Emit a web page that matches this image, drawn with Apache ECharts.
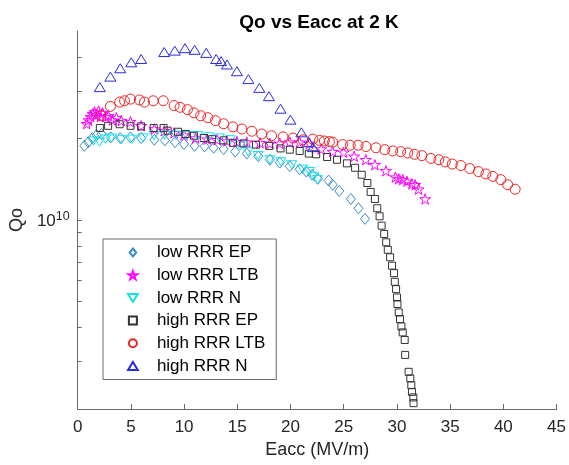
<!DOCTYPE html>
<html><head><meta charset="utf-8">
<script src="https://cdn.jsdelivr.net/npm/echarts@6/dist/echarts.min.js"></script>
<style>html,body{margin:0;padding:0;background:#fff}#c{width:569px;height:465px}</style>
</head><body><div id="c"></div>
<script>
// Q values are in units of 1e10
const Q_UNIT = 1e10;
const seriesNames = ['low RRR EP','low RRR LTB','low RRR N','high RRR EP','high RRR LTB','high RRR N'];

const lowEP_E = [0.62,1.00,1.37,1.77,2.23,3.10,4.00,4.96,5.96,7.20,8.19,9.15,9.99,10.99,11.92,12.78,13.71,14.80,15.89,16.97,18.06,18.99,19.93,20.86,21.48,22.04,22.56,23.58,23.96,24.58,25.67,26.38,27.00];
const lowEP_Q = [1.88,1.94,2.01,2.06,2.08,2.02,2.01,2.02,2.01,1.98,1.97,1.94,1.91,1.88,1.87,1.85,1.83,1.79,1.76,1.72,1.67,1.63,1.58,1.54,1.51,1.47,1.42,1.40,1.35,1.28,1.196,1.105,1.01];

const lowLTB_E = [0.84,1.02,1.21,1.40,1.58,1.77,1.96,2.14,2.33,2.61,2.89,3.26,3.63,4.10,4.96,5.96,7.20,8.13,9.06,9.99,11.08,12.17,13.10,14.03,14.96,15.89,17.13,18.06,18.99,19.93,20.86,21.79,22.88,23.96,24.98,25.98,27.07,27.93,28.96,29.86,30.17,30.54,30.94,31.41,31.72,32.03,32.65];
const lowLTB_Q = [2.27,2.34,2.41,2.47,2.51,2.45,2.53,2.41,2.49,2.41,2.43,2.34,2.39,2.33,2.31,2.23,2.17,2.14,2.10,2.06,2.01,1.99,1.98,1.96,1.95,1.94,1.93,1.92,1.92,1.94,1.94,1.92,1.83,1.79,1.78,1.72,1.67,1.60,1.52,1.44,1.42,1.41,1.39,1.36,1.35,1.30,1.196];

const lowN_E = [1.49,2.05,2.61,3.17,4.10,5.12,6.15,7.17,8.19,9.22,10.24,11.27,12.29,13.31,14.34,15.27,16.01,16.95,18.06,19.09,20.11,21.14,21.79,22.16,22.53];
const lowN_Q = [1.96,1.94,1.99,2.01,1.98,1.99,2.01,2.05,2.06,2.06,2.05,2.05,2.03,2.01,1.98,1.88,1.79,1.73,1.67,1.64,1.60,1.54,1.51,1.45,1.41];

const highEP_E = [2.08,2.86,3.94,4.96,5.96,7.14,8.07,8.45,9.43,10.15,10.92,11.85,12.63,13.69,14.59,15.58,16.76,18.00,19.06,19.93,20.86,21.72,22.41,23.44,24.37,25.30,26.07,26.69,27.22,27.53,27.93,28.15,28.37,28.56,28.80,28.99,29.14,29.36,29.54,29.73,29.80,29.92,30.01,30.05,30.17,30.29,30.42,30.54,30.73,30.77,31.10,31.26,31.35,31.41,31.54,31.56];
const highEP_Q = [2.19,2.23,2.26,2.23,2.22,2.19,2.19,2.14,2.12,2.08,2.05,2.01,1.99,1.97,1.93,1.92,1.90,1.88,1.84,1.82,1.80,1.76,1.75,1.71,1.67,1.62,1.56,1.47,1.37,1.27,1.196,1.105,1.032,0.953,0.888,0.827,0.776,0.728,0.678,0.636,0.591,0.555,0.517,0.489,0.455,0.430,0.404,0.384,0.360,0.317,0.2745,0.2595,0.245,0.2314,0.2207,0.2102];

const highLTB_E = [2.17,3.07,3.94,4.40,4.96,5.80,6.27,7.10,8.04,9.06,9.62,10.31,10.92,11.55,12.23,12.94,13.71,14.59,15.43,16.36,17.29,18.22,19.30,20.23,21.17,22.10,22.72,23.18,23.65,23.96,24.89,25.61,26.35,27.09,28.03,28.86,29.61,30.35,31.01,31.66,32.34,33.19,33.94,34.54,35.20,36.01,36.84,37.66,38.36,39.01,39.76,40.41,41.11];
const highLTB_Q = [2.43,2.63,2.73,2.76,2.80,2.78,2.73,2.76,2.76,2.65,2.61,2.56,2.49,2.43,2.39,2.33,2.27,2.21,2.17,2.13,2.08,2.05,2.03,2.01,1.98,1.99,1.97,1.96,1.95,1.94,1.90,1.89,1.89,1.87,1.85,1.82,1.80,1.79,1.77,1.75,1.73,1.69,1.67,1.64,1.61,1.59,1.55,1.51,1.48,1.45,1.41,1.35,1.30];

const highN_E = [2.08,3.07,4.00,5.03,5.96,8.13,9.12,10.08,10.99,12.08,13.01,13.47,14.03,14.96,16.04,17.07,17.97,19.06,19.99,21.02,21.72,22.10];
const highN_Q = [3.10,3.39,3.64,3.83,3.94,4.18,4.23,4.32,4.26,4.15,3.94,3.87,3.76,3.55,3.32,3.08,2.87,2.58,2.35,2.11,1.94,1.86];

const xTicks = [0,5,10,15,20,25,30,35,40,45];
const yLabelTicks = [1e10];
const yMinorTicks = [3e9,4e9,5e9,6e9,7e9,8e9,9e9,1e10,2e10,3e10,4e10];

const STAR = 'path://M50 0 L61.23 34.55 L97.55 34.55 L68.17 55.9 L79.39 90.45 L50 69.1 L20.61 90.45 L31.83 55.9 L2.45 34.55 L38.77 34.55 Z';
const DOWN_TRI = 'path://M0 0 L110 0 L55 90 Z';
const UP_TRI = 'path://M0 90 L55 0 L110 90 Z';
const DIAMOND = 'path://M45 0 L90 55 L45 110 L0 55 Z';
const SQUARE = 'path://M0 0 L10 0 L10 10 L0 10 Z';

const FONT = "'Liberation Sans', Arial, Helvetica, sans-serif";
const TXT = '#262626';
const AX = '#6a6a6a';

function mk(name, E, Q, symbol, size, color) {
  return {
    type: 'scatter', name: name,
    data: E.map((e, i) => [e, Q[i] * Q_UNIT]),
    symbol: symbol, symbolSize: size, symbolKeepAspect: true,
    itemStyle: { color: 'rgba(0,0,0,0)', borderColor: color, borderWidth: 1, opacity: 1 },
    emphasis: { disabled: true },
    animation: false
  };
}

const chart = echarts.init(document.getElementById('c'), null, { renderer: 'canvas' });
chart.setOption({
  backgroundColor: '#fff',
  animation: false,
  title: {
    text: 'Qo vs Eacc at 2 K', left: 314, top: 8, textAlign: 'center',
    textStyle: { fontFamily: FONT, fontSize: 19, fontWeight: 'bold', color: '#000' }
  },
  grid: { left: 76, right: 10, top: 31, bottom: 56, containLabel: false },
  legend: {
    orient: 'vertical', left: 103, top: 239,
    padding: [5, 11, 5, 24], itemGap: 5.7,
    itemWidth: 38, itemHeight: 8, symbolKeepAspect: true,
    borderColor: '#6a6a6a', borderWidth: 1, backgroundColor: '#fff',
    textStyle: { fontFamily: FONT, fontSize: 17, color: '#000', lineHeight: 17 },
    data: seriesNames,
    selectedMode: false
  },
  xAxis: {
    type: 'value', min: 0, max: 45, interval: 5,
    name: 'Eacc (MV/m)', nameLocation: 'middle', nameGap: 30,
    nameTextStyle: { fontFamily: FONT, fontSize: 18, color: TXT },
    axisLine: { show: true, lineStyle: { color: AX, width: 1 } },
    axisTick: { show: true, inside: true, length: 5, lineStyle: { color: AX } },
    axisLabel: { fontFamily: FONT, fontSize: 17, color: TXT, margin: 10,
      formatter: v => xTicks.includes(v) ? String(v) : '' },
    splitLine: { show: false }
  },
  yAxis: {
    type: 'log', logBase: 10, min: 2e9, max: 5e10,
    name: 'Qo', nameLocation: 'middle', nameGap: 49, nameRotate: 90,
    nameTextStyle: { fontFamily: FONT, fontSize: 18, color: TXT },
    axisLine: { show: true, lineStyle: { color: AX, width: 1 } },
    axisTick: { show: true, inside: true, length: 4, lineStyle: { color: AX }, customValues: yMinorTicks },
    axisLabel: {
      customValues: yLabelTicks, margin: 8,
      formatter: v => (Math.abs(Math.log10(v) - 10) < 1e-6) ? '{b|10}{s|10}' : '',
      rich: {
        b: { fontFamily: FONT, fontSize: 17, color: TXT, verticalAlign: 'bottom', lineHeight: 20 },
        s: { fontFamily: FONT, fontSize: 12.5, color: TXT, verticalAlign: 'top', lineHeight: 20, padding: [0,0,8,0] }
      }
    },
    splitLine: { show: false }
  },
  series: [
    mk(seriesNames[0], lowEP_E, lowEP_Q, DIAMOND, 11, '#3b8ccb'),
    mk(seriesNames[1], lowLTB_E, lowLTB_Q, STAR, 11, '#ff00ff'),
    mk(seriesNames[2], lowN_E, lowN_Q, DOWN_TRI, 10, '#11e3ee'),
    mk(seriesNames[3], highEP_E, highEP_Q, SQUARE, 7, '#333333'),
    mk(seriesNames[4], highLTB_E, highLTB_Q, 'circle', 10, '#ee2424'),
    mk(seriesNames[5], highN_E, highN_Q, UP_TRI, 11, '#2b2be0')
  ]
});
</script>
</body></html>
